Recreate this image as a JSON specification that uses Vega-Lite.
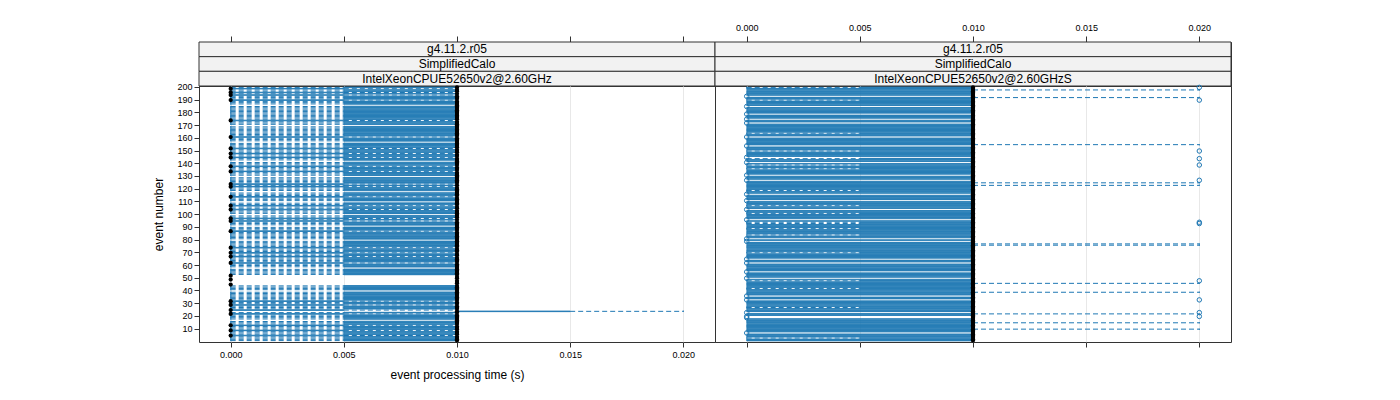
{
"$schema":"https://vega.github.io/schema/vega-lite/v6.json",
"padding":{"left":152,"top":22,"right":5,"bottom":5},
"config":{"font":"Liberation Sans","view":{"stroke":"#333","strokeWidth":1},"axis":{"labelFont":"Liberation Sans","titleFont":"Liberation Sans","labelColor":"#000","titleColor":"#000","tickColor":"#333","labelFontSize":9,"titleFontSize":12,"titleFontWeight":"normal"}},
"datasets":{
"types":[
{"t":"H","l":0,"a":0.005,"m":0.01,"b":0.01,"h":0.01},
{"t":"W","l":0,"a":0,"m":0.01,"b":0.01,"h":0.01},
{"t":"Z","l":0,"a":0,"m":0,"b":0.005,"h":0.01},
{"t":"N","l":0,"a":0,"m":0,"b":0,"h":0},
{"t":"F","l":0.01,"a":0.01,"m":0.01,"b":0.01,"h":0.01},
{"t":"X","l":0.01,"a":0.01,"m":0.01,"b":0.015,"h":0.02},
{"t":"O","l":0.01,"a":0.01,"m":0.01,"b":0.01,"h":0.01,"o1":0},
{"t":"O2","l":0.01,"a":0.01,"m":0.01,"b":0.01,"h":0.01,"o1":0,"o2":0.02},
{"t":"U","l":0,"a":0,"m":0.01,"b":0.01,"h":0.02},
{"t":"H2","l":0,"a":0.005,"m":0.01,"b":0.01,"h":0.01,"o2":0.02}
],
"S1":[{"r":1,"s":"g4.11.2.r05"},{"r":2,"s":"SimplifiedCalo"},{"r":3,"s":"IntelXeonCPUE52650v2@2.60GHz"}],
"S2":[{"r":1,"s":"g4.11.2.r05"},{"r":2,"s":"SimplifiedCalo"},{"r":3,"s":"IntelXeonCPUE52650v2@2.60GHzS"}],
"L":[
{"e":200,"t":"H"},{"e":199,"t":"Z"},{"e":198,"t":"H"},{"e":197,"t":"H"},{"e":196,"t":"Z"},{"e":195,"t":"H"},{"e":194,"t":"Z"},{"e":193,"t":"H"},{"e":192,"t":"H"},{"e":191,"t":"H"},
{"e":190,"t":"Z"},{"e":189,"t":"H"},{"e":188,"t":"H"},{"e":187,"t":"H"},{"e":186,"t":"F"},{"e":185,"t":"H"},{"e":184,"t":"H"},{"e":183,"t":"H"},{"e":182,"t":"H"},{"e":181,"t":"H"},
{"e":180,"t":"H"},{"e":179,"t":"H"},{"e":178,"t":"H"},{"e":177,"t":"H"},{"e":176,"t":"H"},{"e":175,"t":"H"},{"e":174,"t":"Z"},{"e":173,"t":"H"},{"e":172,"t":"H"},{"e":171,"t":"H"},
{"e":170,"t":"F"},{"e":169,"t":"H"},{"e":168,"t":"H"},{"e":167,"t":"H"},{"e":166,"t":"H"},{"e":165,"t":"H"},{"e":164,"t":"H"},{"e":163,"t":"H"},{"e":162,"t":"H"},{"e":161,"t":"Z"},
{"e":160,"t":"H"},{"e":159,"t":"H"},{"e":158,"t":"H"},{"e":157,"t":"F"},{"e":156,"t":"H"},{"e":155,"t":"H"},{"e":154,"t":"H"},{"e":153,"t":"H"},{"e":152,"t":"Z"},{"e":151,"t":"H"},
{"e":150,"t":"H"},{"e":149,"t":"H"},{"e":148,"t":"Z"},{"e":147,"t":"H"},{"e":146,"t":"H"},{"e":145,"t":"Z"},{"e":144,"t":"H"},{"e":143,"t":"H"},{"e":142,"t":"F"},{"e":141,"t":"H"},
{"e":140,"t":"H"},{"e":139,"t":"H"},{"e":138,"t":"Z"},{"e":137,"t":"H"},{"e":136,"t":"H"},{"e":135,"t":"H"},{"e":134,"t":"Z"},{"e":133,"t":"H"},{"e":132,"t":"H"},{"e":131,"t":"H"},
{"e":130,"t":"F"},{"e":129,"t":"H"},{"e":128,"t":"H"},{"e":127,"t":"H"},{"e":126,"t":"H"},{"e":125,"t":"H"},{"e":124,"t":"Z"},{"e":123,"t":"H"},{"e":122,"t":"Z"},{"e":121,"t":"H"},
{"e":120,"t":"H"},{"e":119,"t":"H"},{"e":118,"t":"F"},{"e":117,"t":"H"},{"e":116,"t":"H"},{"e":115,"t":"H"},{"e":114,"t":"Z"},{"e":113,"t":"H"},{"e":112,"t":"H"},{"e":111,"t":"H"},
{"e":110,"t":"F"},{"e":109,"t":"H"},{"e":108,"t":"H"},{"e":107,"t":"Z"},{"e":106,"t":"H"},{"e":105,"t":"H"},{"e":104,"t":"Z"},{"e":103,"t":"H"},{"e":102,"t":"H"},{"e":101,"t":"H"},
{"e":100,"t":"F"},{"e":99,"t":"H"},{"e":98,"t":"H"},{"e":97,"t":"Z"},{"e":96,"t":"H"},{"e":95,"t":"Z"},{"e":94,"t":"H"},{"e":93,"t":"H"},{"e":92,"t":"H"},{"e":91,"t":"F"},
{"e":90,"t":"H"},{"e":89,"t":"H"},{"e":88,"t":"H"},{"e":87,"t":"Z"},{"e":86,"t":"H"},{"e":85,"t":"H"},{"e":84,"t":"H"},{"e":83,"t":"H"},{"e":82,"t":"H"},{"e":81,"t":"H"},
{"e":80,"t":"F"},{"e":79,"t":"H"},{"e":78,"t":"H"},{"e":77,"t":"H"},{"e":76,"t":"H"},{"e":75,"t":"H"},{"e":74,"t":"Z"},{"e":73,"t":"H"},{"e":72,"t":"H"},{"e":71,"t":"H"},
{"e":70,"t":"Z"},{"e":69,"t":"H"},{"e":68,"t":"H"},{"e":67,"t":"Z"},{"e":66,"t":"H"},{"e":65,"t":"H"},{"e":64,"t":"H"},{"e":63,"t":"H"},{"e":62,"t":"Z"},{"e":61,"t":"H"},
{"e":60,"t":"H"},{"e":59,"t":"H"},{"e":58,"t":"F"},{"e":57,"t":"H"},{"e":56,"t":"H"},{"e":55,"t":"H"},{"e":54,"t":"H"},{"e":53,"t":"H"},{"e":52,"t":"N"},{"e":51,"t":"F"},
{"e":50,"t":"F"},{"e":49,"t":"N"},{"e":48,"t":"F"},{"e":47,"t":"F"},{"e":46,"t":"F"},{"e":45,"t":"N"},{"e":44,"t":"H"},{"e":43,"t":"H"},{"e":42,"t":"H"},{"e":41,"t":"H"},
{"e":40,"t":"F"},{"e":39,"t":"H"},{"e":38,"t":"H"},{"e":37,"t":"H"},{"e":36,"t":"H"},{"e":35,"t":"H"},{"e":34,"t":"H"},{"e":33,"t":"H"},{"e":32,"t":"Z"},{"e":31,"t":"H"},
{"e":30,"t":"H"},{"e":29,"t":"Z"},{"e":28,"t":"H"},{"e":27,"t":"H"},{"e":26,"t":"H"},{"e":25,"t":"Z"},{"e":24,"t":"X"},{"e":23,"t":"H"},{"e":22,"t":"Z"},{"e":21,"t":"H"},
{"e":20,"t":"H"},{"e":19,"t":"H"},{"e":18,"t":"H"},{"e":17,"t":"F"},{"e":16,"t":"H"},{"e":15,"t":"H"},{"e":14,"t":"H"},{"e":13,"t":"Z"},{"e":12,"t":"H"},{"e":11,"t":"H"},
{"e":10,"t":"H"},{"e":9,"t":"Z"},{"e":8,"t":"H"},{"e":7,"t":"H"},{"e":6,"t":"H"},{"e":5,"t":"Z"},{"e":4,"t":"H"},{"e":3,"t":"H"},{"e":2,"t":"H"},{"e":1,"t":"H"}
],
"R":[
{"e":200,"t":"H2"},{"e":199,"t":"W"},{"e":198,"t":"U"},{"e":197,"t":"W"},{"e":196,"t":"W"},{"e":195,"t":"W"},{"e":194,"t":"W"},{"e":193,"t":"O"},{"e":192,"t":"U"},{"e":191,"t":"W"},
{"e":190,"t":"H2"},{"e":189,"t":"W"},{"e":188,"t":"W"},{"e":187,"t":"W"},{"e":186,"t":"W"},{"e":185,"t":"O"},{"e":184,"t":"W"},{"e":183,"t":"W"},{"e":182,"t":"W"},{"e":181,"t":"W"},
{"e":180,"t":"W"},{"e":179,"t":"O"},{"e":178,"t":"W"},{"e":177,"t":"W"},{"e":176,"t":"W"},{"e":175,"t":"O"},{"e":174,"t":"W"},{"e":173,"t":"W"},{"e":172,"t":"O"},{"e":171,"t":"W"},
{"e":170,"t":"W"},{"e":169,"t":"W"},{"e":168,"t":"W"},{"e":167,"t":"W"},{"e":166,"t":"W"},{"e":165,"t":"W"},{"e":164,"t":"H"},{"e":163,"t":"W"},{"e":162,"t":"W"},{"e":161,"t":"O"},
{"e":160,"t":"W"},{"e":159,"t":"W"},{"e":158,"t":"W"},{"e":157,"t":"W"},{"e":156,"t":"W"},{"e":155,"t":"U"},{"e":154,"t":"O"},{"e":153,"t":"W"},{"e":152,"t":"W"},{"e":151,"t":"W"},
{"e":150,"t":"H2"},{"e":149,"t":"W"},{"e":148,"t":"W"},{"e":147,"t":"W"},{"e":146,"t":"W"},{"e":145,"t":"O"},{"e":144,"t":"H2"},{"e":143,"t":"W"},{"e":142,"t":"W"},{"e":141,"t":"O"},
{"e":140,"t":"W"},{"e":139,"t":"H2"},{"e":138,"t":"W"},{"e":137,"t":"W"},{"e":136,"t":"H"},{"e":135,"t":"W"},{"e":134,"t":"W"},{"e":133,"t":"W"},{"e":132,"t":"W"},{"e":131,"t":"O"},
{"e":130,"t":"W"},{"e":129,"t":"W"},{"e":128,"t":"W"},{"e":127,"t":"O2"},{"e":126,"t":"W"},{"e":125,"t":"U"},{"e":124,"t":"W"},{"e":123,"t":"U"},{"e":122,"t":"W"},{"e":121,"t":"W"},
{"e":120,"t":"W"},{"e":119,"t":"H"},{"e":118,"t":"W"},{"e":117,"t":"W"},{"e":116,"t":"O"},{"e":115,"t":"W"},{"e":114,"t":"W"},{"e":113,"t":"W"},{"e":112,"t":"W"},{"e":111,"t":"O"},
{"e":110,"t":"W"},{"e":109,"t":"W"},{"e":108,"t":"W"},{"e":107,"t":"H"},{"e":106,"t":"W"},{"e":105,"t":"W"},{"e":104,"t":"O"},{"e":103,"t":"W"},{"e":102,"t":"W"},{"e":101,"t":"H"},
{"e":100,"t":"W"},{"e":99,"t":"W"},{"e":98,"t":"W"},{"e":97,"t":"W"},{"e":96,"t":"O"},{"e":95,"t":"W"},{"e":94,"t":"H2"},{"e":93,"t":"H2"},{"e":92,"t":"W"},{"e":91,"t":"W"},
{"e":90,"t":"W"},{"e":89,"t":"H"},{"e":88,"t":"W"},{"e":87,"t":"W"},{"e":86,"t":"W"},{"e":85,"t":"W"},{"e":84,"t":"H"},{"e":83,"t":"W"},{"e":82,"t":"W"},{"e":81,"t":"O"},
{"e":80,"t":"W"},{"e":79,"t":"O"},{"e":78,"t":"W"},{"e":77,"t":"U"},{"e":76,"t":"U"},{"e":75,"t":"W"},{"e":74,"t":"W"},{"e":73,"t":"W"},{"e":72,"t":"W"},{"e":71,"t":"W"},
{"e":70,"t":"H"},{"e":69,"t":"W"},{"e":68,"t":"W"},{"e":67,"t":"W"},{"e":66,"t":"W"},{"e":65,"t":"O"},{"e":64,"t":"W"},{"e":63,"t":"W"},{"e":62,"t":"O"},{"e":61,"t":"W"},
{"e":60,"t":"W"},{"e":59,"t":"W"},{"e":58,"t":"W"},{"e":57,"t":"W"},{"e":56,"t":"W"},{"e":55,"t":"O"},{"e":54,"t":"W"},{"e":53,"t":"W"},{"e":52,"t":"W"},{"e":51,"t":"W"},
{"e":50,"t":"O"},{"e":49,"t":"W"},{"e":48,"t":"H2"},{"e":47,"t":"W"},{"e":46,"t":"U"},{"e":45,"t":"W"},{"e":44,"t":"W"},{"e":43,"t":"W"},{"e":42,"t":"H"},{"e":41,"t":"W"},
{"e":40,"t":"W"},{"e":39,"t":"U"},{"e":38,"t":"W"},{"e":37,"t":"W"},{"e":36,"t":"O"},{"e":35,"t":"W"},{"e":34,"t":"W"},{"e":33,"t":"O2"},{"e":32,"t":"W"},{"e":31,"t":"W"},
{"e":30,"t":"W"},{"e":29,"t":"W"},{"e":28,"t":"W"},{"e":27,"t":"H"},{"e":26,"t":"W"},{"e":25,"t":"W"},{"e":24,"t":"W"},{"e":23,"t":"O2"},{"e":22,"t":"U"},{"e":21,"t":"W"},
{"e":20,"t":"O2"},{"e":19,"t":"O"},{"e":18,"t":"W"},{"e":17,"t":"W"},{"e":16,"t":"W"},{"e":15,"t":"U"},{"e":14,"t":"W"},{"e":13,"t":"W"},{"e":12,"t":"W"},{"e":11,"t":"W"},
{"e":10,"t":"U"},{"e":9,"t":"W"},{"e":8,"t":"W"},{"e":7,"t":"O"},{"e":6,"t":"W"},{"e":5,"t":"W"},{"e":4,"t":"W"},{"e":3,"t":"H"},{"e":2,"t":"W"},{"e":1,"t":"W"}
]
},
"columns":2,
"spacing":0,
"bounds":"flush",
"concat":[
{"width":516,"height":44,"data":{"name":"S1"},
 "layer":[
  {"mark":{"type":"rect","fill":"#f2f2f2","stroke":"#333","strokeWidth":1},
   "encoding":{"y":{"field":"r","type":"ordinal","scale":{"paddingInner":0,"paddingOuter":0},"axis":null}}},
  {"mark":{"type":"text","fontSize":12,"color":"#000","font":"Liberation Sans"},
   "encoding":{"y":{"field":"r","type":"ordinal","axis":null},
    "x":{"datum":0.01,"type":"quantitative","scale":{"domain":[-0.0014,0.0214],"nice":false,"zero":false},
     "axis":{"orient":"top","values":[0,0.005,0.01,0.015,0.02],"labels":false,"grid":false,"domain":false,"tickSize":6,"title":null}},
    "text":{"field":"s"}}}
 ]},
{"width":516,"height":44,"data":{"name":"S2"},
 "layer":[
  {"mark":{"type":"rect","fill":"#f2f2f2","stroke":"#333","strokeWidth":1},
   "encoding":{"y":{"field":"r","type":"ordinal","scale":{"paddingInner":0,"paddingOuter":0},"axis":null}}},
  {"mark":{"type":"text","fontSize":12,"color":"#000","font":"Liberation Sans"},
   "encoding":{"y":{"field":"r","type":"ordinal","axis":null},
    "x":{"datum":0.01,"type":"quantitative","scale":{"domain":[-0.0014,0.0214],"nice":false,"zero":false},
     "axis":{"orient":"top","values":[0,0.005,0.01,0.015,0.02],"format":".3f","labels":true,"labelPadding":4,"grid":false,"domain":false,"tickSize":6,"title":null}},
    "text":{"field":"s"}}}
 ]},
{"width":516,"height":256,"data":{"name":"L"},
 "transform":[{"lookup":"t","from":{"data":{"name":"types"},"key":"t","fields":["l","a","m","b","h","o1","o2"]}}],
 "encoding":{"y":{"field":"e","type":"ordinal","sort":"descending","scale":{"paddingInner":0.5,"paddingOuter":0.85},
   "axis":{"values":[10,20,30,40,50,60,70,80,90,100,110,120,130,140,150,160,170,180,190,200],"tickSize":5,"labelPadding":2,"domain":false,"grid":false,"title":"event number","titlePadding":11}}},
 "layer":[
  {"transform":[{"filter":"datum.l < datum.a"}],"mark":{"type":"rule","color":"#1F78B4","strokeDash":[5,3],"strokeWidth":1},
   "encoding":{"x":{"field":"l","type":"quantitative","scale":{"domain":[-0.0014,0.0214],"nice":false,"zero":false},
     "axis":{"orient":"bottom","values":[0,0.005,0.01,0.015,0.02],"format":".3f","grid":true,"gridColor":"#e8e8e8","domain":false,"tickSize":5,"labelPadding":3,"title":"event processing time (s)","titlePadding":10}},
    "x2":{"field":"a"}}},
  {"transform":[{"filter":"datum.h > datum.b"}],"mark":{"type":"rule","color":"#1F78B4","strokeDash":[5,3],"strokeWidth":1},
   "encoding":{"x":{"field":"b","type":"quantitative"},"x2":{"field":"h"}}},
  {"transform":[{"filter":"datum.l < datum.a"}],"mark":{"type":"tick","orient":"vertical","color":"#1F78B4","size":1.5,"thickness":1,"opacity":1},
   "encoding":{"x":{"field":"l","type":"quantitative"}}},
  {"transform":[{"filter":"datum.h > datum.b"}],"mark":{"type":"tick","orient":"vertical","color":"#1F78B4","size":1.5,"thickness":1,"opacity":1},
   "encoding":{"x":{"field":"h","type":"quantitative"}}},
  {"mark":{"type":"bar","fill":"#1F78B4","stroke":"#1F78B4","strokeWidth":0.8,"opacity":1},
   "encoding":{"x":{"field":"a","type":"quantitative"},"x2":{"field":"b"}}},
  {"mark":{"type":"point","shape":"circle","filled":true,"color":"#000","size":18,"opacity":1},
   "encoding":{"x":{"field":"m","type":"quantitative"}}},
  {"transform":[{"filter":"isValid(datum.o1)"}],"mark":{"type":"point","shape":"circle","filled":false,"color":"#1F78B4","size":20,"strokeWidth":1,"opacity":1},
   "encoding":{"x":{"field":"o1","type":"quantitative"}}},
  {"transform":[{"filter":"isValid(datum.o2)"}],"mark":{"type":"point","shape":"circle","filled":false,"color":"#1F78B4","size":20,"strokeWidth":1,"opacity":1},
   "encoding":{"x":{"field":"o2","type":"quantitative"}}}
 ]},
{"width":516,"height":256,"data":{"name":"R"},
 "transform":[{"lookup":"t","from":{"data":{"name":"types"},"key":"t","fields":["l","a","m","b","h","o1","o2"]}}],
 "encoding":{"y":{"field":"e","type":"ordinal","sort":"descending","scale":{"paddingInner":0.5,"paddingOuter":0.85},"axis":null}},
 "layer":[
  {"transform":[{"filter":"datum.l < datum.a"}],"mark":{"type":"rule","color":"#1F78B4","strokeDash":[5,3],"strokeWidth":1},
   "encoding":{"x":{"field":"l","type":"quantitative","scale":{"domain":[-0.0014,0.0214],"nice":false,"zero":false},
     "axis":{"orient":"bottom","values":[0,0.005,0.01,0.015,0.02],"labels":false,"grid":true,"gridColor":"#e8e8e8","domain":false,"tickSize":5,"title":null}},
    "x2":{"field":"a"}}},
  {"transform":[{"filter":"datum.h > datum.b"}],"mark":{"type":"rule","color":"#1F78B4","strokeDash":[5,3],"strokeWidth":1},
   "encoding":{"x":{"field":"b","type":"quantitative"},"x2":{"field":"h"}}},
  {"transform":[{"filter":"datum.l < datum.a"}],"mark":{"type":"tick","orient":"vertical","color":"#1F78B4","size":1.5,"thickness":1,"opacity":1},
   "encoding":{"x":{"field":"l","type":"quantitative"}}},
  {"transform":[{"filter":"datum.h > datum.b"}],"mark":{"type":"tick","orient":"vertical","color":"#1F78B4","size":1.5,"thickness":1,"opacity":1},
   "encoding":{"x":{"field":"h","type":"quantitative"}}},
  {"mark":{"type":"bar","fill":"#1F78B4","stroke":"#1F78B4","strokeWidth":0.8,"opacity":1},
   "encoding":{"x":{"field":"a","type":"quantitative"},"x2":{"field":"b"}}},
  {"mark":{"type":"point","shape":"circle","filled":true,"color":"#000","size":18,"opacity":1},
   "encoding":{"x":{"field":"m","type":"quantitative"}}},
  {"transform":[{"filter":"isValid(datum.o1)"}],"mark":{"type":"point","shape":"circle","filled":false,"color":"#1F78B4","size":20,"strokeWidth":1,"opacity":1},
   "encoding":{"x":{"field":"o1","type":"quantitative"}}},
  {"transform":[{"filter":"isValid(datum.o2)"}],"mark":{"type":"point","shape":"circle","filled":false,"color":"#1F78B4","size":20,"strokeWidth":1,"opacity":1},
   "encoding":{"x":{"field":"o2","type":"quantitative"}}}
 ]}
]
}
